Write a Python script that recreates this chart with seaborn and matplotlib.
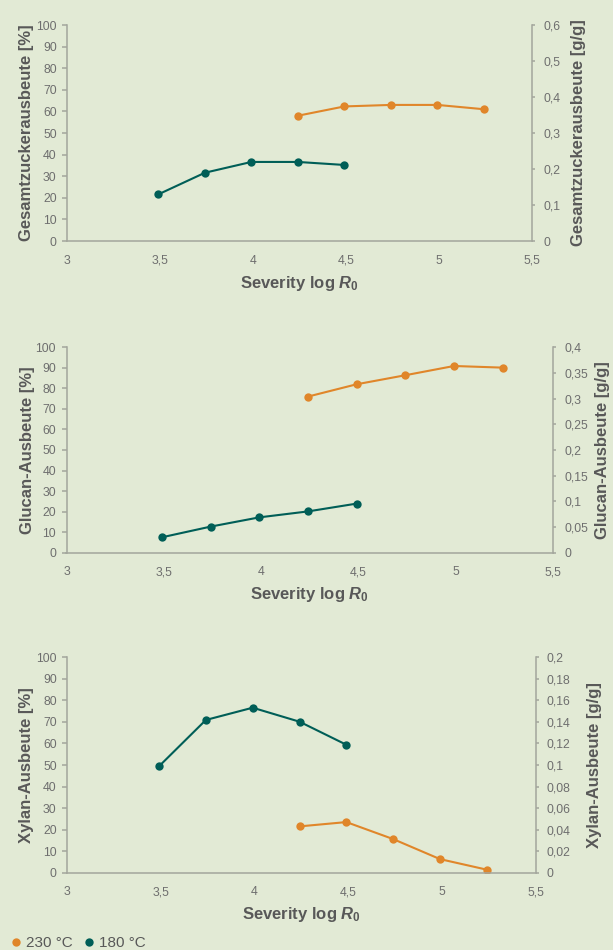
import numpy as np
import pandas as pd
import matplotlib
matplotlib.use("Agg")
import matplotlib.pyplot as plt
from matplotlib.lines import Line2D
from matplotlib.ticker import FuncFormatter, MultipleLocator
import seaborn as sns

# Severity factor log R0 for both pretreatment temperatures
severity_180 = [3.49, 3.74, 3.99, 4.24, 4.49]
severity_230 = [4.24, 4.49, 4.74, 4.99, 5.24]

# Yields in percent of the theoretical maximum
sugar_180 = [21.6, 31.6, 36.6, 36.6, 35.2]
sugar_230 = [58.0, 62.3, 63.0, 63.0, 61.0]
glucan_180 = [7.5, 12.7, 17.2, 20.1, 23.9]
glucan_230 = [76.0, 82.0, 86.4, 90.9, 90.1]
xylan_180 = [49.4, 70.9, 76.6, 70.1, 59.4]
xylan_230 = [21.5, 23.5, 15.6, 6.3, 1.4]

temperatures = ["230 °C", "180 °C"]
left_labels = ["Gesamtzuckerausbeute [%]", "Glucan-Ausbeute [%]", "Xylan-Ausbeute [%]"]
right_labels = ["Gesamtzuckerausbeute [g/g]", "Glucan-Ausbeute [g/g]", "Xylan-Ausbeute [g/g]"]
right_max = [0.6, 0.4, 0.2]
right_step = [0.1, 0.05, 0.02]
x_ticks = [3, 3.5, 4, 4.5, 5, 5.5]
y_ticks = list(range(0, 101, 10))

BG = "#e2ead5"
TEAL = "#005e57"
ORANGE = "#e0862a"
AXIS = "#a3a69c"
TICKTXT = "#6e6e6e"
LABEL = "#585858"
palette = {"230 °C": ORANGE, "180 °C": TEAL}

sns.set_theme(style="white")
plt.rcParams["font.family"] = ["Liberation Sans", "DejaVu Sans"]
plt.rcParams["mathtext.fontset"] = "custom"
plt.rcParams["mathtext.rm"] = "Liberation Sans:bold"
plt.rcParams["mathtext.it"] = "Liberation Sans:bold:italic"
plt.rcParams["mathtext.bf"] = "Liberation Sans:bold"


def frame(sev180, y180, sev230, y230):
    return pd.concat([
        pd.DataFrame({"severity": sev230, "yield": y230, "temp": "230 °C"}),
        pd.DataFrame({"severity": sev180, "yield": y180, "temp": "180 °C"}),
    ], ignore_index=True)


panels = [
    frame(severity_180, sugar_180, severity_230, sugar_230),
    frame(severity_180, glucan_180, severity_230, glucan_230),
    frame(severity_180, xylan_180, severity_230, xylan_230),
]

W, H = 613, 950
fig = plt.figure(figsize=(W / 100, H / 100), dpi=100, facecolor=BG)

# axes boxes in pixels: left, right, top, bottom
boxes = [(67.2, 532.3, 25, 241), (66.5, 553.3, 347.3, 552.7), (67.2, 535.6, 657.3, 872.7)]
left_label_x = [34, 35, 34]
right_label_x = [571, 595, 587]

comma = FuncFormatter(lambda v, p: ("%g" % round(v, 4)).replace(".", ","))

for i, df in enumerate(panels):
    l, r, t, b = boxes[i]
    ax = fig.add_axes([l / W, (H - b) / H, (r - l) / W, (b - t) / H])
    ax.set_facecolor(BG)
    sns.lineplot(data=df, x="severity", y="yield", hue="temp", palette=palette,
                 marker="o", markersize=6, markeredgewidth=0, linewidth=1.5,
                 legend=False, ax=ax, estimator=None, sort=False)
    ax.set_xlim(3, 5.5)
    ax.set_ylim(0, 100)
    ax.set_xticks(x_ticks)
    ax.set_yticks(y_ticks)
    ax.xaxis.set_major_formatter(comma)

    ax2 = ax.twinx()
    ax2.set_ylim(0, right_max[i])
    ax2.yaxis.set_major_locator(MultipleLocator(right_step[i]))
    ax2.yaxis.set_major_formatter(comma)

    for a in (ax, ax2):
        a.spines["top"].set_visible(False)
        for s in ("left", "right", "bottom"):
            a.spines[s].set_color(AXIS)
            a.spines[s].set_linewidth(1.1)
        a.tick_params(axis="both", which="major", direction="out", length=3.3,
                      width=1.1, color=AXIS, labelcolor=TICKTXT, labelsize=8.8, pad=4.3)
    ax.spines["right"].set_visible(False)
    ax2.spines["left"].set_visible(False)
    ax2.spines["bottom"].set_visible(False)
    ax.tick_params(axis="x", pad=6.5)
    ax2.tick_params(axis="y", pad=5.5, length=2.5)

    ax.set_xlabel(r"Severity log $\mathit{R_0}$", fontsize=12, fontweight="bold",
                  color=LABEL, labelpad=5)
    ax.set_ylabel(left_labels[i], fontsize=12, fontweight="bold", color=LABEL)
    ax.yaxis.set_label_coords((left_label_x[i] - l) / (r - l), 0.5)
    ax2.set_ylabel(right_labels[i], fontsize=12, fontweight="bold", color=LABEL,
                   rotation=90)
    ax2.yaxis.set_label_coords((right_label_x[i] - l) / (r - l), 0.5)

handles = [Line2D([], [], linestyle="none", marker="o", markersize=6,
                  markeredgewidth=0, color=palette[tmp]) for tmp in temperatures]
fig.legend(handles, temperatures, loc="center left", bbox_to_anchor=(5 / W, 1 - 943 / H),
           ncol=2, frameon=False, handlelength=0.6, handletextpad=0.35,
           columnspacing=0.8, borderaxespad=0, prop={"size": 11},
           labelcolor=LABEL)

fig.savefig("out.png", dpi=100, facecolor=BG)
